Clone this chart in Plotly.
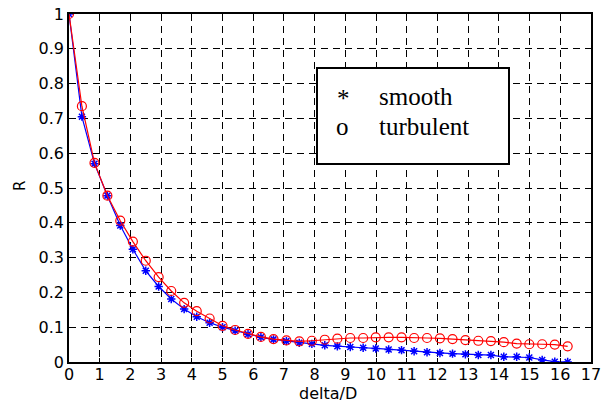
import plotly.graph_objects as go

x_vals = [0.00, 0.42, 0.83, 1.25, 1.67, 2.08, 2.50, 2.92, 3.33, 3.75,
          4.16, 4.58, 5.00, 5.41, 5.83, 6.25, 6.66, 7.08, 7.50, 7.91,
          8.33, 8.74, 9.16, 9.58, 9.99, 10.41, 10.83, 11.24, 11.66, 12.08,
          12.49, 12.91, 13.33, 13.74, 14.16, 14.58, 14.99, 15.41, 15.82, 16.24]

smooth = [1.000, 0.705, 0.570, 0.478, 0.392, 0.324, 0.262, 0.217, 0.181, 0.152,
          0.130, 0.113, 0.100, 0.090, 0.080, 0.071, 0.065, 0.060, 0.055, 0.052,
          0.048, 0.045, 0.043, 0.041, 0.039, 0.036, 0.034, 0.031, 0.028, 0.026,
          0.024, 0.022, 0.020, 0.020, 0.015, 0.015, 0.013, 0.006, 0.001, 0.000]

turbulent = [1.000, 0.735, 0.572, 0.478, 0.406, 0.346, 0.291, 0.244, 0.204, 0.170,
             0.146, 0.125, 0.104, 0.092, 0.081, 0.072, 0.066, 0.062, 0.059, 0.061,
             0.064, 0.067, 0.069, 0.069, 0.071, 0.071, 0.071, 0.069, 0.069, 0.068,
             0.066, 0.063, 0.061, 0.060, 0.057, 0.053, 0.051, 0.051, 0.050, 0.045]

x_ticks = list(range(0, 18))
y_ticks = [0, 0.1, 0.2, 0.3, 0.4, 0.5, 0.6, 0.7, 0.8, 0.9, 1]
y_tick_text = ["0", "0.1", "0.2", "0.3", "0.4", "0.5", "0.6", "0.7", "0.8", "0.9", "1"]

fig = go.Figure()
fig.add_trace(go.Scatter(
    x=x_vals, y=smooth, mode="lines+markers", name="smooth",
    line=dict(color="rgb(0,0,255)", width=1.2),
    marker=dict(symbol="asterisk-open", size=7, color="rgb(0,0,255)",
                line=dict(color="rgb(0,0,255)", width=1.5)),
))
fig.add_trace(go.Scatter(
    x=x_vals, y=turbulent, mode="lines+markers", name="turbulent",
    line=dict(color="rgb(255,0,0)", width=1.2),
    marker=dict(symbol="circle-open", size=9, color="rgb(255,0,0)",
                line=dict(color="rgb(255,0,0)", width=1.2)),
))

sans = "DejaVu Sans, Arial"
axis_common = dict(
    showgrid=True, gridcolor="black", gridwidth=1, griddash="7px,5px",
    showline=True, linecolor="black", linewidth=1.5, mirror=True,
    ticks="inside", ticklen=4, tickcolor="black", zeroline=False,
    tickfont=dict(family=sans, size=16, color="black"),
    automargin=False,
)

fig.update_xaxes(range=[0, 17], tickvals=x_ticks, ticktext=[str(t) for t in x_ticks],
                 ticklabelstandoff=-3, **axis_common)
fig.update_yaxes(range=[0, 1], tickvals=y_ticks, ticktext=y_tick_text,
                 **axis_common)

W, H = 607, 403
L, T, R, B = 69, 14, 16, 41
pw, ph = W - L - R, H - T - B

def px(xp):
    return (xp - L) / pw

def py(yp):
    return (H - B - yp) / ph

fig.add_annotation(xref="paper", yref="paper", x=px(328), y=py(393), text="delta/D",
                   showarrow=False, xanchor="center", yanchor="middle",
                   font=dict(family=sans, size=16, color="black"))
fig.add_annotation(xref="paper", yref="paper", x=px(20), y=py(186), text="R",
                   showarrow=False, xanchor="center", yanchor="middle", textangle=-90,
                   font=dict(family=sans, size=15, color="black"))

fig.add_shape(type="rect", xref="paper", yref="paper",
              x0=px(317), x1=px(509), y0=py(164), y1=py(68),
              line=dict(color="black", width=2), fillcolor="white", layer="above")

legend_font = dict(family="Liberation Serif, Times New Roman", size=25, color="black")
fig.add_annotation(xref="paper", yref="paper", x=px(343), y=py(98), text="*",
                   showarrow=False, xanchor="center", yanchor="middle", font=legend_font)
fig.add_annotation(xref="paper", yref="paper", x=px(377), y=py(96), text="smooth",
                   showarrow=False, xanchor="left", yanchor="middle", font=legend_font)
fig.add_annotation(xref="paper", yref="paper", x=px(342), y=py(127), text="o",
                   showarrow=False, xanchor="center", yanchor="middle", font=legend_font)
fig.add_annotation(xref="paper", yref="paper", x=px(377), y=py(127), text="turbulent",
                   showarrow=False, xanchor="left", yanchor="middle", font=legend_font)

fig.update_layout(
    width=W, height=H,
    margin=dict(l=L, r=R, t=T, b=B),
    paper_bgcolor="white", plot_bgcolor="white",
    showlegend=False,
)

fig.write_html("out.html", config={"displayModeBar": False},
               post_script="document.body.style.margin='0';")
